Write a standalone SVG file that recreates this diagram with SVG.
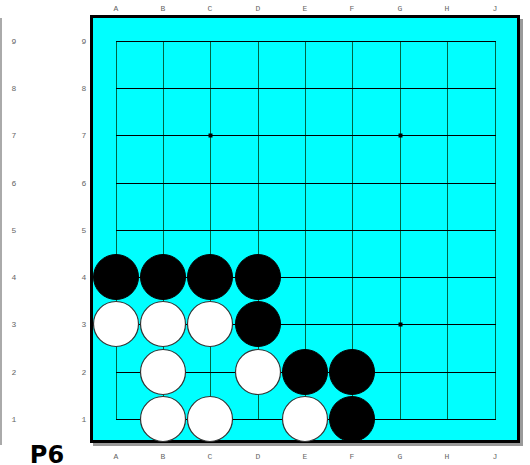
<svg xmlns="http://www.w3.org/2000/svg" width="530" height="465" viewBox="0 0 530 465">
<style>
.lbl{font-family:"Liberation Mono",monospace;font-size:8px;fill:#666;text-anchor:middle}
.g{stroke:#000;stroke-width:1;fill:none}
.gv{stroke:#064;stroke-width:1}
.b{fill:#000;stroke:#000;stroke-width:1}
.w{fill:#fff;stroke:#333;stroke-width:1.2}
</style>
<rect x="0" y="18" width="2" height="427" fill="#aaa"/>
<rect x="93" y="19" width="430" height="427" fill="#999"/>
<rect x="91.5" y="16.5" width="427" height="425" fill="#00ffff" stroke="#000" stroke-width="3"/>
<g id="labels">
<g class="lbl">
<text x="116" y="11">A</text><text x="163" y="11">B</text><text x="210" y="11">C</text><text x="258" y="11">D</text><text x="305" y="11">E</text><text x="352" y="11">F</text><text x="400" y="11">G</text><text x="447" y="11">H</text><text x="495" y="11">J</text>
<text x="116" y="459">A</text><text x="163" y="459">B</text><text x="210" y="459">C</text><text x="258" y="459">D</text><text x="305" y="459">E</text><text x="352" y="459">F</text><text x="400" y="459">G</text><text x="447" y="459">H</text><text x="495" y="459">J</text>
<text x="14" y="44">9</text><text x="14" y="91">8</text><text x="14" y="138">7</text><text x="14" y="186">6</text><text x="14" y="233">5</text><text x="14" y="280">4</text><text x="14" y="327">3</text><text x="14" y="375">2</text><text x="14" y="422">1</text>
<text x="84" y="44">9</text><text x="84" y="91">8</text><text x="84" y="138">7</text><text x="84" y="186">6</text><text x="84" y="233">5</text><text x="84" y="280">4</text><text x="84" y="327">3</text><text x="84" y="375">2</text><text x="84" y="422">1</text>
</g>
<text x="47" y="463" font-family="DejaVu Sans,sans-serif" font-size="24" font-weight="bold" text-anchor="middle">P6</text>
</g>
<g id="grid">
<g class="gv">
<line x1="116.5" y1="41" x2="116.5" y2="419"/><line x1="163.5" y1="41" x2="163.5" y2="419"/><line x1="210.5" y1="41" x2="210.5" y2="419"/><line x1="258.5" y1="41" x2="258.5" y2="419"/><line x1="305.5" y1="41" x2="305.5" y2="419"/><line x1="352.5" y1="41" x2="352.5" y2="419"/><line x1="400.5" y1="41" x2="400.5" y2="419"/><line x1="447.5" y1="41" x2="447.5" y2="419"/><line x1="495.5" y1="41" x2="495.5" y2="419"/>
</g>
<g class="g">
<line x1="116" y1="41.5" x2="496" y2="41.5"/><line x1="116" y1="88.5" x2="496" y2="88.5"/><line x1="116" y1="135.5" x2="496" y2="135.5"/><line x1="116" y1="183.5" x2="496" y2="183.5"/><line x1="116" y1="230.5" x2="496" y2="230.5"/><line x1="116" y1="277.5" x2="496" y2="277.5"/><line x1="116" y1="324.5" x2="496" y2="324.5"/><line x1="116" y1="372.5" x2="496" y2="372.5"/><line x1="116" y1="419.5" x2="496" y2="419.5"/>
</g>
<rect x="208.5" y="133.5" width="4" height="4" fill="#000"/>
<rect x="398.5" y="133.5" width="4" height="4" fill="#000"/>
<rect x="398.5" y="322.5" width="4" height="4" fill="#000"/>
</g>
<g id="stones">
<circle class="b" cx="116" cy="277" r="22.5"/>
<circle class="b" cx="163" cy="277" r="22.5"/>
<circle class="b" cx="210" cy="277" r="22.5"/>
<circle class="b" cx="258" cy="277" r="22.5"/>
<circle class="b" cx="258" cy="324" r="22.5"/>
<circle class="b" cx="305" cy="372" r="22.5"/>
<circle class="b" cx="352" cy="372" r="22.5"/>
<circle class="b" cx="352" cy="419" r="22.5"/>
<circle class="w" cx="116" cy="324" r="22.5"/>
<circle class="w" cx="163" cy="324" r="22.5"/>
<circle class="w" cx="210" cy="324" r="22.5"/>
<circle class="w" cx="163" cy="372" r="22.5"/>
<circle class="w" cx="258" cy="372" r="22.5"/>
<circle class="w" cx="163" cy="419" r="22.5"/>
<circle class="w" cx="210" cy="419" r="22.5"/>
<circle class="w" cx="305" cy="419" r="22.5"/>
</g>
</svg>
